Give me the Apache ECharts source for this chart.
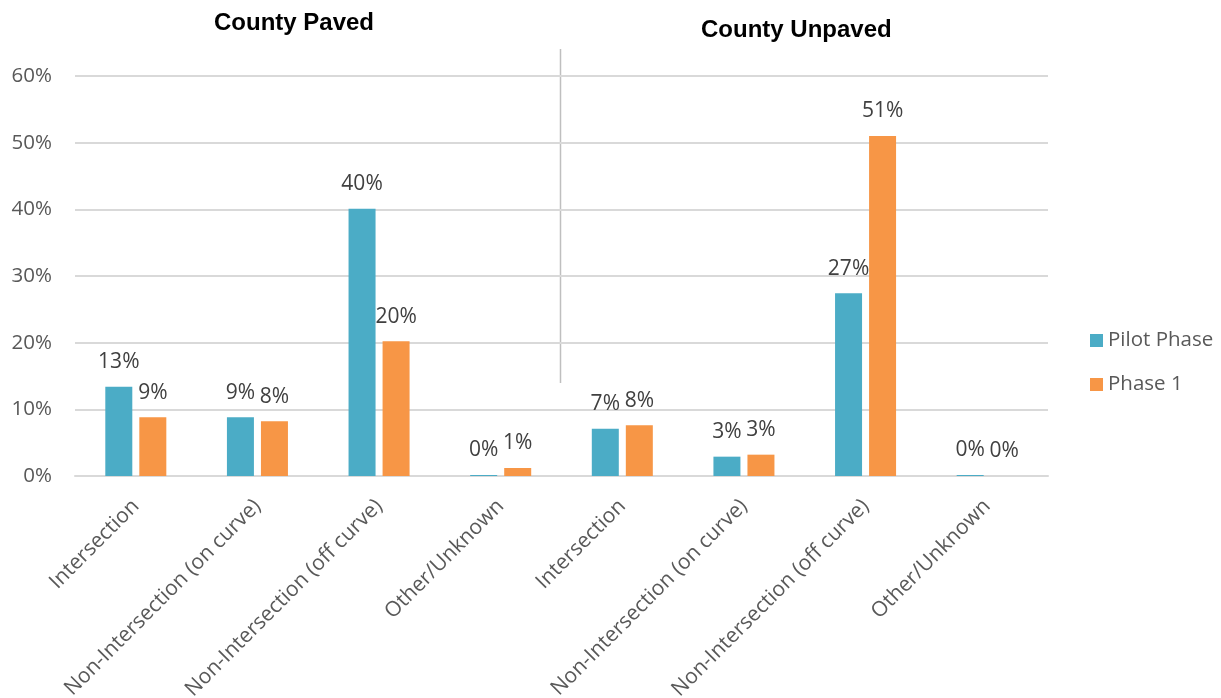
<!DOCTYPE html>
<html>
<head>
<meta charset="utf-8">
<script src="https://cdn.jsdelivr.net/npm/echarts@6/dist/echarts.min.js"></script>
<style>html,body{margin:0;padding:0;background:#fff}#c{width:1221px;height:698px}</style>
</head>
<body>
<div id="c"></div>
<script>
const categories = [
  "Intersection", "Non-Intersection (on curve)", "Non-Intersection (off curve)", "Other/Unknown",
  "Intersection ", "Non-Intersection (on curve) ", "Non-Intersection (off curve) ", "Other/Unknown "
];
const pilotPhase = [13.4, 8.8, 40.1, 0.15, 7.1, 2.9, 27.4, 0.15];
const phase1 = [8.8, 8.2, 20.2, 1.2, 7.6, 3.2, 51.0, 0];
const seriesNames = ["Pilot Phase", "Phase 1"];
const groupTitles = ["County Paved", "County Unpaved"];
const yTicks = [0, 10, 20, 30, 40, 50, 60];

const chart = echarts.init(document.getElementById('c'), null, {renderer: 'canvas'});
const FONT = '"Open Sans", "Noto Sans", sans-serif';
const labelCfg = {
  show: true, position: 'top', distance: 14,
  color: '#404040', fontSize: 21, fontFamily: FONT,
  formatter: p => Math.round(p.value) + '%'
};
chart.setOption({
  animation: false,
  grid: {left: 75, right: 173, top: 76, bottom: 222, containLabel: false, outerBoundsMode: 'none'},
  legend: {
    orient: 'vertical', left: 1085, top: 325,
    itemWidth: 13, itemHeight: 13, itemGap: 23,
    textStyle: {fontSize: 20.5, color: '#595959', fontFamily: FONT},
    icon: 'rect',
    data: seriesNames
  },
  xAxis: {
    type: 'category', data: categories,
    axisLine: {lineStyle: {color: '#d9d9d9', width: 2}},
    axisTick: {show: false},
    axisLabel: {
      interval: 0, rotate: 45, margin: 27,
      color: '#595959', fontSize: 21, fontFamily: FONT,
      formatter: v => v.trim()
    }
  },
  yAxis: {
    type: 'value', min: yTicks[0], max: yTicks[yTicks.length - 1], interval: 10,
    axisLine: {show: false}, axisTick: {show: false},
    splitLine: {lineStyle: {color: '#d9d9d9', width: 2}},
    axisLabel: {formatter: '{value}%', color: '#595959', fontSize: 20.5, fontFamily: FONT, margin: 23}
  },
  series: [
    {name: seriesNames[0], type: 'bar', data: pilotPhase, barWidth: 27, barGap: '26%',
     itemStyle: {color: '#4BACC6'}, label: labelCfg},
    {name: seriesNames[1], type: 'bar', data: phase1, barWidth: 27,
     itemStyle: {color: '#F79646'}, label: labelCfg}
  ],
  graphic: [
    {type: 'text', left: 214, top: 11, style: {text: groupTitles[0], fontSize: 24, fontWeight: 'bold', fontFamily: 'Liberation Sans, Arial, sans-serif', fill: '#000'}},
    {type: 'text', left: 701, top: 18, style: {text: groupTitles[1], fontSize: 24, fontWeight: 'bold', fontFamily: 'Liberation Sans, Arial, sans-serif', fill: '#000'}},
    {type: 'line', shape: {x1: 560.5, y1: 49, x2: 560.5, y2: 383}, style: {stroke: '#bfbfbf', lineWidth: 1.5}}
  ]
});
</script>
</body>
</html>
